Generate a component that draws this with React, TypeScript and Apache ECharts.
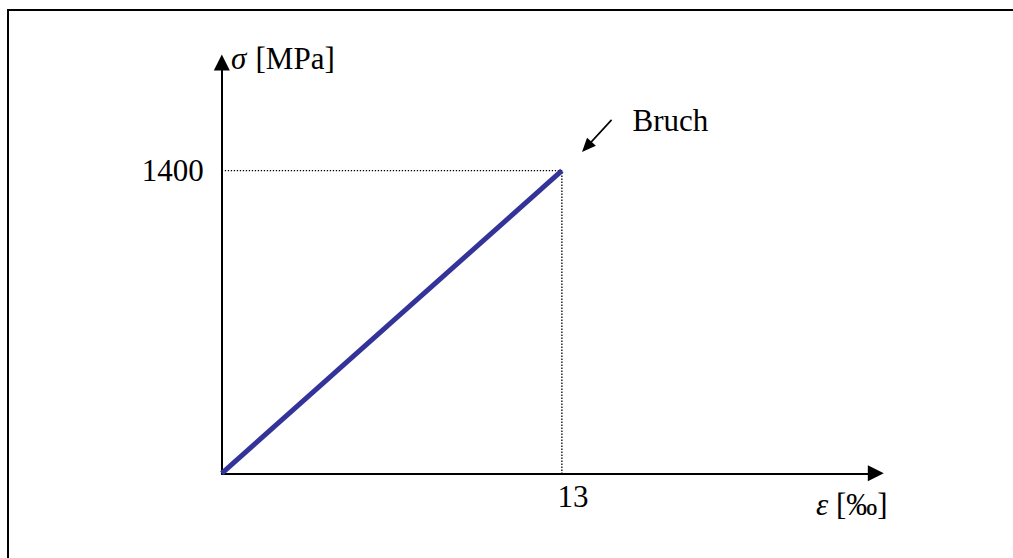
import React, { useEffect, useRef } from "react";
import * as echarts from "echarts";

// Data (strain in ‰, stress in MPa)
const strainValues = [0, 13];
const stressValues = [0, 1400];
const guideStrain = [0, 13, 13];
const guideStress = [1400, 1400, 0];
const xTickValues = [13];
const yTickValues = [1400];
const xMax = 25;
const yMax = 1900;
const breakArrowFrom = [14.9, 1635];
const breakArrowTo = [13.95, 1510];
const breakLabel = "Bruch";
const yName = ["σ", "[MPa]"];
const xName = ["ε", "[‰]"];

const FONT = "'Liberation Serif', 'Times New Roman', serif";
const FS = 31;

export default function App() {
  const ref = useRef<HTMLDivElement>(null);
  useEffect(() => {
    if (!ref.current) return;
    const chart = echarts.init(ref.current, null, { renderer: "svg" });
    const mainData = strainValues.map((x, i) => [x, stressValues[i]]);
    const guideData = guideStrain.map((x, i) => [x, guideStress[i]]);
    const axisLine = {
      show: true,
      symbol: ["none", "triangle"],
      symbolSize: [16, 16],
      lineStyle: { color: "#000", width: 2 },
    };
    chart.setOption({
      animation: false,
      backgroundColor: "#fff",
      grid: {
        left: 221.8,
        top: 62.6,
        width: 654,
        height: 410.7,
        containLabel: false,
        outerBoundsMode: "none",
      },
      xAxis: {
        type: "value",
        min: 0,
        max: xMax,
        axisLine,
        axisTick: { show: false },
        splitLine: { show: false },
        axisLabel: {
          customValues: xTickValues,
          formatter: (v: number) => String(v),
          color: "#000",
          fontFamily: FONT,
          fontSize: FS,
          margin: 8,
          align: "center",
          padding: [0, 0, 0, 22],
        },
      },
      yAxis: {
        type: "value",
        min: 0,
        max: yMax,
        axisLine,
        axisTick: { show: false },
        splitLine: { show: false },
        axisLabel: {
          customValues: yTickValues,
          formatter: (v: number) => String(v),
          color: "#000",
          fontFamily: FONT,
          fontSize: FS,
          margin: 18,
          padding: [0, 0, 4, 0],
        },
      },
      series: [
        {
          type: "line",
          data: guideData,
          symbol: "none",
          silent: true,
          lineStyle: { color: "#000", width: 1.3, type: [1.3, 1.7] },
          z: 2,
          markLine: {
            silent: true,
            symbol: ["none", "triangle"],
            symbolSize: [12, 14],
            label: { show: false },
            lineStyle: { color: "#000", width: 1.6, type: "solid" },
            emphasis: { disabled: true },
            data: [[{ coord: breakArrowFrom }, { coord: breakArrowTo }]],
          },
        },
        {
          type: "line",
          data: mainData,
          symbol: "none",
          silent: true,
          lineStyle: { color: "#333399", width: 5 },
          z: 3,
        },
      ],
      graphic: [
        {
          type: "polyline",
          shape: { points: [[8, 558], [8, 10], [1013, 10]] },
          style: { stroke: "#000", lineWidth: 2, fill: "none" },
          silent: true,
        },
        {
          type: "text",
          x: 632.5,
          y: 120,
          style: { text: breakLabel, font: `${FS}px ${FONT}`, fill: "#000", align: "left", verticalAlign: "middle" },
        },
        {
          type: "text",
          x: 231,
          y: 58,
          style: { text: yName[0], font: `italic ${FS}px ${FONT}`, fill: "#000", align: "left", verticalAlign: "middle" },
        },
        {
          type: "text",
          x: 255.5,
          y: 58,
          style: { text: yName[1], font: `${FS}px ${FONT}`, fill: "#000", align: "left", verticalAlign: "middle" },
        },
        {
          type: "text",
          x: 816,
          y: 504,
          style: { text: xName[0], font: `italic ${FS}px ${FONT}`, fill: "#000", align: "left", verticalAlign: "middle" },
        },
        {
          type: "text",
          x: 836,
          y: 504,
          style: { text: xName[1], font: `${FS}px ${FONT}`, fill: "#000", align: "left", verticalAlign: "middle" },
        },
      ],
    });
    return () => chart.dispose();
  }, []);
  return (
    <div
      ref={ref}
      style={{ position: "fixed", left: 0, top: 0, width: 1013, height: 558, background: "#fff" }}
    />
  );
}
